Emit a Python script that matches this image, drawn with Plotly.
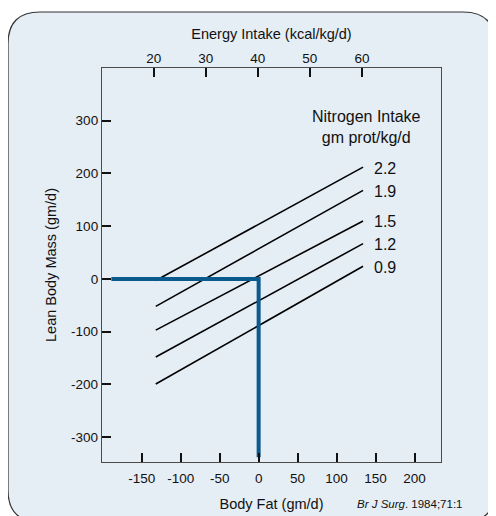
import plotly.graph_objects as go

# ---- data ----
nitrogen_labels = ["2.2", "1.9", "1.5", "1.2", "0.9"]
line_x = [-132, 134]
line_start_y = [-3, -52, -97, -148, -199]
line_end_y = [212, 168, 110, 67, 24]

path_x = [-189, 0, 0]
path_y = [0, 0, -338]

x_ticks = [-150, -100, -50, 0, 50, 100, 150, 200]
x_tick_text = ["-150", "-100", "-50", "0", "50", "100", "150", "200"]
y_ticks = [-300, -200, -100, 0, 100, 200, 300]
y_tick_text = ["-300", "-200", "-100", "0", "100", "200", "300"]
energy_ticks = [20, 30, 40, 50, 60]
energy_tick_text = ["20", "30", "40", "50", "60"]

# ---- layout geometry (pixels, page coordinates) ----
OFF = 8  # the page body margin offsets the figure
W, H = 496 - OFF, 516 - OFF
L, R, T, B = 102 - OFF, 441 - OFF, 68 - OFF, 462 - OFF
FONT = "Liberation Sans, Arial, Helvetica, sans-serif"
INK = "#111111"
FRAME = "#4a4a4a"
BLUE = "#0b5a8e"


def px(xp):
    return (xp - OFF - L) / (R - L)


def py(yp):
    return (B - (yp - OFF)) / (B - T)


fig = go.Figure()

for lab, y0, y1 in zip(nitrogen_labels, line_start_y, line_end_y):
    fig.add_trace(go.Scatter(x=line_x, y=[y0, y1], mode="lines",
                             line=dict(color="#000000", width=1.6),
                             showlegend=False, hoverinfo="skip"))
    fig.add_annotation(x=line_x[1], y=y1, text=lab, showarrow=False,
                       xanchor="left", yanchor="middle", xshift=9, yshift=-1,
                       font=dict(family=FONT, size=16, color=INK))

fig.add_trace(go.Scatter(x=path_x, y=path_y, mode="lines",
                         line=dict(color=BLUE, width=4),
                         showlegend=False, hoverinfo="skip"))

# invisible trace to activate top axis
fig.add_trace(go.Scatter(x=[energy_ticks[0]], y=[0], xaxis="x2", mode="markers",
                         marker=dict(opacity=0), showlegend=False, hoverinfo="skip"))

fig.add_annotation(x=139, y=289, text="Nitrogen Intake<br>gm prot/kg/d",
                   showarrow=False, xanchor="center", yanchor="middle",
                   font=dict(family=FONT, size=16, color=INK))

fig.add_annotation(xref="paper", yref="paper", x=px(465), y=py(504),
                   text="<i>Br J Surg</i>. 1984;71:1", showarrow=False,
                   xanchor="right", yanchor="middle",
                   font=dict(family=FONT, size=11.5, color=INK))

# rounded background panel
x0, x1, y0, y1, r = 8, 495, 12, 522, 32
pts = [
    ("M", [(x0 + r, y0)]),
    ("L", [(x1 - r, y0)]),
    ("Q", [(x1, y0), (x1, y0 + r)]),
    ("L", [(x1, y1 - r)]),
    ("Q", [(x1, y1), (x1 - r, y1)]),
    ("L", [(x0 + r, y1)]),
    ("Q", [(x0, y1), (x0, y1 - r)]),
    ("L", [(x0, y0 + r)]),
    ("Q", [(x0, y0), (x0 + r, y0)]),
]
path = " ".join(cmd + " " + " ".join(f"{px(a):.5f},{py(b):.5f}" for a, b in p)
                for cmd, p in pts) + " Z"
fig.add_shape(type="path", xref="paper", yref="paper", path=path,
              fillcolor="#e5edf5", line=dict(color="#333333", width=1.2),
              layer="below")

axis_common = dict(showgrid=False, zeroline=False, showline=True, automargin=False,
                   linecolor=FRAME, linewidth=1.3, ticks="inside", ticklen=9,
                   tickwidth=1.6, tickcolor="#111111",
                   tickfont=dict(family=FONT, size=13.5, color=INK))
title_font = dict(family=FONT, size=14.5, color=INK)

fig.update_layout(
    width=W, height=H, autosize=False,
    margin=dict(l=L, r=W - R, t=T, b=H - B, pad=0),
    paper_bgcolor="white", plot_bgcolor="rgba(0,0,0,0)",
    xaxis=dict(range=[-201, 234], tickvals=x_ticks, ticktext=x_tick_text,
               **axis_common, ticklabelstandoff=4,
               title=dict(text="Body Fat (gm/d)", standoff=13, font=title_font)),
    xaxis2=dict(range=[10.06, 75.2], tickvals=energy_ticks,
                ticktext=energy_tick_text, overlaying="x",
                side="top", anchor="y", **axis_common, ticklabelstandoff=-2,
                title=dict(text="Energy Intake (kcal/kg/d)", standoff=8,
                           font=title_font)),
    yaxis=dict(range=[-347, 400], tickvals=y_ticks, ticktext=y_tick_text,
               mirror=True, **axis_common,
               title=dict(text="Lean Body Mass (gm/d)", standoff=11,
                          font=title_font)),
)

fig.write_html("out.html")
